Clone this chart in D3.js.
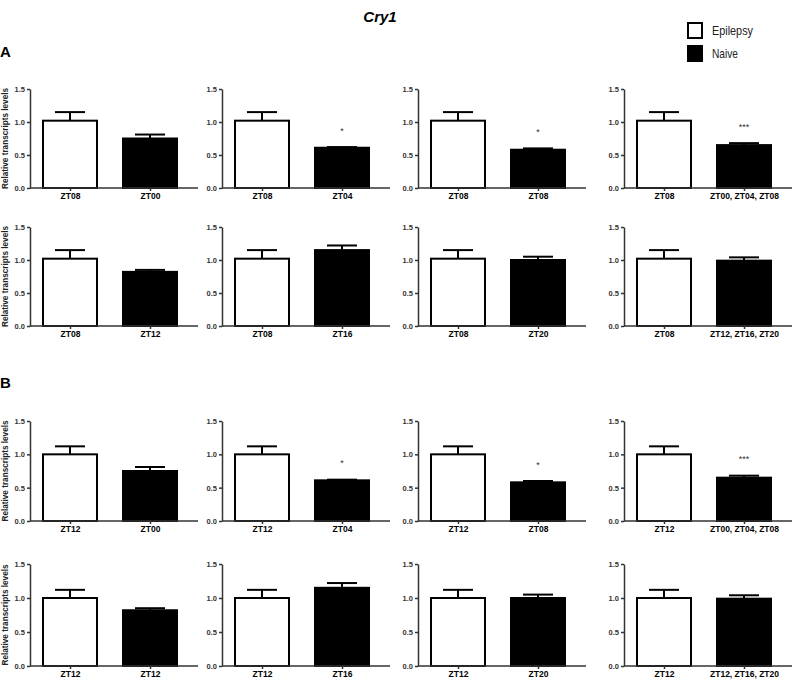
<!DOCTYPE html>
<html>
<head>
<meta charset="utf-8">
<script src="https://cdn.jsdelivr.net/npm/d3@7"></script>
<style>
  body { margin: 0; background: #fff; }
  text { font-family: "Liberation Sans", Arial, sans-serif; }
</style>
</head>
<body>
<script>
// data
let SectionLabels = ["A", "B"];
let RefLabels = ["ZT08", "ZT12"];
let RefMeans = [1.02, 1.00];
let RefSems = [0.13, 0.12];
let NaiveLabels = [
    ["ZT00", "ZT04", "ZT08", "ZT00, ZT04, ZT08"],
    ["ZT12", "ZT16", "ZT20", "ZT12, ZT16, ZT20"]
];
let NaiveMeans = [
    [0.75, 0.61, 0.58, 0.65],
    [0.82, 1.15, 1.00, 0.99]
];
let NaiveSems = [
    [0.06, 0.01, 0.02, 0.03],
    [0.03, 0.07, 0.05, 0.05]
];
let Stars = [
    ["", "*", "*", "***"],
    ["", "", "", ""]
];
let YTicks = [0, 0.5, 1.0, 1.5];

let SvgWidth = 792;
let SvgHeight = 681;

let Svg = d3.select("body")
    .append("svg")
    .attr("width", SvgWidth)
    .attr("height", SvgHeight)

// layout: [top(1.5), bottom(0)] for each of the 4 rows, y-axis x for each column
let RowY = [[89, 188], [227, 326], [421, 521], [564, 666]];
let ColX = [30, 222, 418, 624];
let PlotWidth = 160;

// title + legend
Svg.append("text")
    .attr("x", 380).attr("y", 22)
    .attr("text-anchor", "middle")
    .style("font-size", "15px").style("font-weight", "bold").style("font-style", "italic")
    .text("Cry1");

let Legend = [["Epilepsy", "#fff", 23, 41], ["Naive", "#000", 46, 26]];
Legend.forEach(function (l) {
    Svg.append("rect")
        .attr("x", 688).attr("y", l[2]).attr("width", 14).attr("height", 15)
        .attr("fill", l[1]).attr("stroke", "#000").attr("stroke-width", 2);
    Svg.append("text")
        .attr("x", 712).attr("y", l[2] + 12)
        .attr("textLength", l[3]).attr("lengthAdjust", "spacingAndGlyphs")
        .style("font-size", "13.5px").attr("fill", "#222")
        .text(l[0]);
});

Svg.append("text").attr("x", 0).attr("y", 57)
    .style("font-size", "15px").style("font-weight", "bold").text(SectionLabels[0]);
Svg.append("text").attr("x", 0).attr("y", 388)
    .style("font-size", "15px").style("font-weight", "bold").text(SectionLabels[1]);

function drawPanel(row, col, sec, r) {
    let Top = RowY[row][0], Bottom = RowY[row][1];
    let G = Svg.append("g").attr("transform", `translate(${ColX[col]},0)`);

    let Cats = [RefLabels[sec], NaiveLabels[r][col]];
    let Means = [RefMeans[sec], NaiveMeans[r][col]];
    let Sems = [RefSems[sec], NaiveSems[r][col]];

    let yScale = d3.scaleLinear().domain([0, 1.5]).range([Bottom, Top]);
    let xScale = d3.scaleBand().domain([0, 1]).range([0, PlotWidth])
        .paddingInner(0.325).paddingOuter(0.1625);

    // bars
    G.selectAll("rect.bar")
        .data(Means)
        .enter()
        .append("rect")
        .attr("class", "bar")
        .attr("x", (d, i) => xScale(i))
        .attr("width", xScale.bandwidth())
        .attr("y", d => yScale(d))
        .attr("height", d => Bottom - yScale(d))
        .attr("fill", (d, i) => i === 0 ? "#fff" : "#000")
        .attr("stroke", "#000")
        .attr("stroke-width", 2);

    // error bars
    Means.forEach(function (m, i) {
        let cx = xScale(i) + xScale.bandwidth() / 2;
        G.append("line")
            .attr("x1", cx).attr("x2", cx)
            .attr("y1", yScale(m)).attr("y2", yScale(m + Sems[i]))
            .attr("stroke", "#000").attr("stroke-width", 2);
        G.append("line")
            .attr("x1", cx - 15).attr("x2", cx + 15)
            .attr("y1", yScale(m + Sems[i])).attr("y2", yScale(m + Sems[i]))
            .attr("stroke", "#000").attr("stroke-width", 2);
    });

    // significance
    let star = Stars[r][col];
    if (star) {
        G.append("text")
            .attr("x", xScale(1) + xScale.bandwidth() / 2)
            .attr("y", yScale(Means[1] + Sems[1] + 0.2))
            .attr("text-anchor", "middle")
            .style("font-size", "9px").attr("fill", "#333")
            .text(star);
    }

    // axes
    let LeftAxis = d3.axisLeft(yScale).tickValues(YTicks).tickFormat(d3.format(".1f"))
        .tickSizeInner(3).tickSizeOuter(0).tickPadding(2);
    let yAxisG = G.append("g").call(LeftAxis);
    yAxisG.select(".domain").attr("stroke", "#333").attr("stroke-width", 1.5);
    yAxisG.selectAll(".tick line").attr("stroke", "#333").attr("stroke-width", 1.5);
    yAxisG.selectAll(".tick text")
        .style("font-size", "7.5px").style("font-weight", "bold")
        .style("font-family", "'Liberation Sans', Arial, sans-serif").attr("fill", "#333");

    let xAxisScale = d3.scaleOrdinal().domain([0, 1])
        .range([xScale(0) + xScale.bandwidth() / 2, xScale(1) + xScale.bandwidth() / 2]);
    let BottomAxis = d3.axisBottom(xAxisScale).tickFormat(i => Cats[i])
        .tickSizeInner(3).tickSizeOuter(0).tickPadding(2);
    let xAxisG = G.append("g").attr("transform", `translate(0,${Bottom})`).call(BottomAxis);
    xAxisG.select(".domain").attr("d", `M0,0H${PlotWidth + 8}`)
        .attr("stroke", "#333").attr("stroke-width", 1.5);
    xAxisG.selectAll(".tick line").attr("stroke", "#333").attr("stroke-width", 1.5);
    xAxisG.selectAll(".tick text")
        .style("font-size", "8.5px").style("font-weight", "bold")
        .style("font-family", "'Liberation Sans', Arial, sans-serif").attr("fill", "#000");

    if (col === 0) {
        Svg.append("text")
            .attr("transform", `translate(8,${(Top + Bottom) / 2}) rotate(-90)`)
            .attr("text-anchor", "middle")
            .style("font-size", "8.2px").style("font-weight", "bold").attr("fill", "#222")
            .text("Relative transcripts levels");
    }
}

for (let sec = 0; sec < 2; sec++) {
    for (let r = 0; r < 2; r++) {
        for (let col = 0; col < 4; col++) {
            drawPanel(sec * 2 + r, col, sec, r);
        }
    }
}
</script>
</body>
</html>
